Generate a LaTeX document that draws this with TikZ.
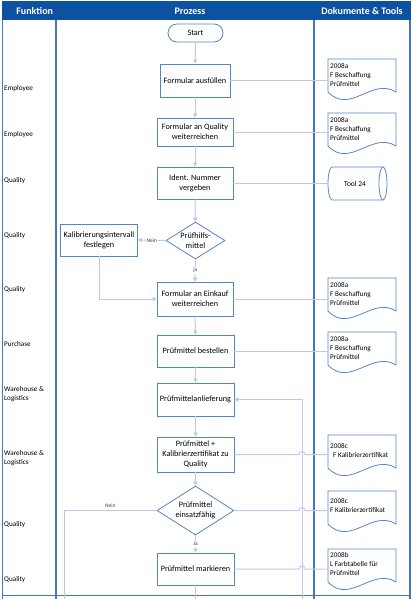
\documentclass[tikz,border=0pt]{standalone}
\usepackage{fontspec}
\setmainfont{Carlito}
\usetikzlibrary{arrows.meta,shapes.geometric,calc}
\definecolor{hdr}{RGB}{12,82,160}
\definecolor{lane}{RGB}{70,118,188}
\definecolor{shp}{RGB}{84,134,198}
\definecolor{conn}{RGB}{192,200,232}
\newcommand\docshape[1]{%
  \draw[shp,line width=0.8pt,fill=white] (328,#1+33) -- (328,#1) -- (396,#1) -- (396,#1+33)
    .. controls (372,#1+18) and (350,#1+56) .. (328,#1+33) -- cycle;}
\begin{document}
\begin{tikzpicture}[x=1pt,y=-1pt,
  proc/.style={draw=shp,line width=0.8pt,rectangle,inner sep=0pt,fill=white,
    font=\fontsize{8.2}{10}\selectfont,align=center},
  dia/.style={draw=shp,line width=0.8pt,shape=diamond,inner sep=0pt,fill=white},
  txt/.style={inner sep=0pt,font=\fontsize{8.2}{10}\selectfont,align=center},
  side/.style={inner sep=0pt,anchor=west,font=\fontsize{7.2}{9}\selectfont,align=left},
  doctxt/.style={inner sep=0pt,anchor=west,font=\fontsize{7.2}{9}\selectfont,align=left},
  hdrtxt/.style={inner sep=0pt,text=white,font=\fontsize{10}{12}\selectfont\bfseries},
  lbl/.style={inner sep=1pt,font=\fontsize{5.5}{6}\selectfont,text=black!75},
  cn/.style={draw=conn,line width=1pt},
  arr/.style={-{Triangle[length=4pt,width=4.5pt]}},
  lanel/.style={draw=lane,line width=1.1pt}
]
\useasboundingbox (0,0) rectangle (413,599);
% header
\fill[hdr] (2,1) rectangle (411,20);
\node[hdrtxt] (h1) at (34.7,11) {Funktion};
\node[hdrtxt] (h2) at (190,11) {Prozess};
\node[hdrtxt] (h3) at (362,11) {Dokumente \& Tools};
% lanes
\draw[lanel] (2.5,20) -- (2.5,599);
\draw[lanel] (56,20) -- (56,599);
\draw[lanel] (314,20) -- (314,599);
\draw[lanel] (410,20) -- (410,599);
\draw[lanel] (2.5,595.5) -- (410,595.5);
% helper coordinates
\coordinate (dl) at (328,0);
\coordinate (vx) at (302,0);
\coordinate (vb) at (302,599);
\coordinate (nb) at (64,599);
\coordinate (bot) at (0,599);
% side labels
\node[side] (s1) at (4,89) {Employee};
\node[side] (s2) at (4,135) {Employee};
\node[side] (s3) at (4,181) {Quality};
\node[side] (s4) at (4,236) {Quality};
\node[side] (s5) at (4,290) {Quality};
\node[side] (s6) at (4,344) {Purchase};
\node[side] (s7) at (4,394.5) {Warehouse \&\\Logistics};
\node[side] (s8) at (4,458.5) {Warehouse \&\\Logistics};
\node[side] (s9) at (4,525) {Quality};
\node[side] (s10) at (4,580) {Quality};
% documents
\docshape{59}
\node[doctxt] (doc1) at (330,75) {2008a\\F Beschaffung\\Prüfmittel};
\docshape{113}
\node[doctxt] (doc2) at (330,129) {2008a\\F Beschaffung\\Prüfmittel};
\docshape{278}
\node[doctxt] (doc3) at (330,294) {2008a\\F Beschaffung\\Prüfmittel};
\docshape{332}
\node[doctxt] (doc4) at (330,348) {2008a\\F Beschaffung\\Prüfmittel};
\docshape{435}
\node[doctxt] (doc5) at (330,451) {2008c\\\hspace{3pt}F Kalibrierzertifikat};
\docshape{491}
\node[doctxt] (doc6) at (330,506) {2008c\\F Kalibrierzertifikat};
\docshape{549}
\node[doctxt] (doc7) at (330,564.5) {2008b\\L Farbtabelle für\\Prüfmittel};
% cylinder
\fill[white] (332,167) rectangle (383,200);
\draw[shp,line width=0.8pt] (383,167) -- (332,167)
  arc[start angle=90,end angle=270,x radius=4pt,y radius=16.5pt] -- (383,200);
\draw[shp,line width=0.8pt,fill=white] (383,183.5) ellipse[x radius=4pt,y radius=16.5pt];
\node[txt,font=\fontsize{7.5}{9}\selectfont] (tool) at (355,183.5) {Tool 24};
% process nodes
\node[proc,minimum width=55pt,minimum height=18pt,rounded corners=9pt] (start) at (195.5,33) {Start};
\node[proc,minimum width=70pt,minimum height=33pt] (f1) at (195,80.5) {Formular ausfüllen};
\node[proc,minimum width=76pt,minimum height=28pt] (f2) at (195,132) {Formular an Quality\\weiterreichen};
\node[proc,minimum width=76pt,minimum height=32pt] (f3) at (195,183) {Ident. Nummer\\vergeben};
\node[dia,minimum width=59pt,minimum height=37pt] (d1) at (195.5,240.5) {};
\node[txt] (d1t) at (d1.center) {Prüfhilfs-\\mittel};
\node[proc,minimum width=77pt,minimum height=32pt] (kal) at (99,240) {Kalibrierungsintervall\\festlegen};
\node[proc,minimum width=76pt,minimum height=34pt] (f4) at (195,299) {Formular an Einkauf\\weiterreichen};
\node[proc,minimum width=77pt,minimum height=32pt] (f5) at (195.5,351) {Prüfmittel bestellen};
\node[proc,minimum width=77pt,minimum height=33pt] (f6) at (195.5,399.5) {Prüfmittelanlieferung};
\node[proc,minimum width=77pt,minimum height=35pt] (f7) at (195.5,454.5) {Prüfmittel +\\Kalibrierzertifikat zu\\Quality};
\node[dia,minimum width=77pt,minimum height=49pt] (d2) at (195.5,510.5) {};
\node[txt] (d2t) at (d2.center) {Prüfmittel\\einsatzfähig};
\node[proc,minimum width=77pt,minimum height=32pt] (f8) at (195.5,569) {Prüfmittel markieren};
% flow connectors
\draw[cn,arr] (start) -- (f1);
\draw[cn,arr] (f1) -- (f2);
\draw[cn,arr] (f2) -- (f3);
\draw[cn,arr] (f3) -- (d1);
\draw[cn,arr] (d1.west) -- node[lbl,fill=white] {Nein} (kal.east);
\draw[cn,arr] (d1.south) -- node[lbl,fill=white] {ja} (f4.north);
\draw[cn,arr] (kal.south) |- (f4.west);
\draw[cn,arr] (f4) -- (f5);
\draw[cn,arr] (f5) -- (f6);
\draw[cn,arr] (f6) -- (f7);
\draw[cn,arr] (f7) -- (d2);
\draw[cn,arr] (d2.south) -- node[lbl,fill=white] {Ja} (f8.north);
\draw[cn] (f8.south) -- (f8.south |- bot);
\draw[cn] (d2.west) -- node[lbl,above=1pt] {Nein} (d2.west -| nb) -- (nb);
\draw[cn,arr] (vb) |- (f6.east);
% document connectors
\draw[cn] (f1.east) -- (f1.east -| dl);
\draw[cn] (f2.east) -- (f2.east -| dl);
\draw[cn] (f3.east) -- (f3.east -| dl);
\draw[cn] (f4.east) -- (f4.east -| dl);
\draw[cn] (f5.east) -- (f5.east -| dl);
\draw[cn] (f7.east) -- ($(f7.east -| vx)+(-3,0)$) arc[start angle=180,end angle=0,radius=3pt] -- (f7.east -| dl);
\draw[cn] (d2.east) -- ($(d2.east -| vx)+(-3,0)$) arc[start angle=180,end angle=0,radius=3pt] -- (d2.east -| dl);
\draw[cn] (f8.east) -- ($(f8.east -| vx)+(-3,0)$) arc[start angle=180,end angle=0,radius=3pt] -- (f8.east -| dl);
\end{tikzpicture}
\end{document}
